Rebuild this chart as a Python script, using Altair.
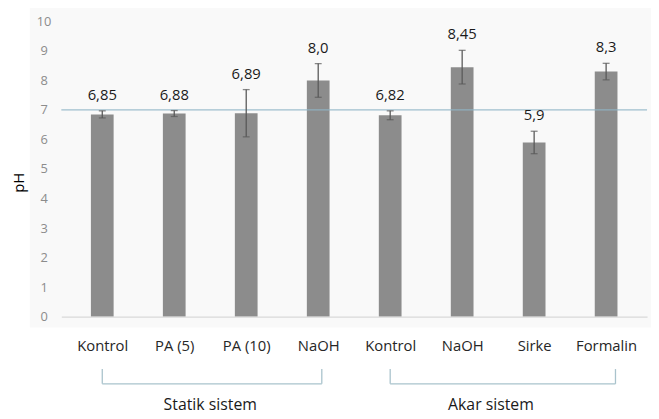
import json
import altair as alt
import pandas as pd

# ---- data ----
categories = ["Kontrol", "PA (5)", "PA (10)", "NaOH", "Kontrol", "NaOH", "Sirke", "Formalin"]
ph_values = [6.85, 6.88, 6.89, 8.0, 6.82, 8.45, 5.9, 8.3]
errors = [0.12, 0.10, 0.80, 0.57, 0.15, 0.57, 0.38, 0.28]
value_labels = ["6,85", "6,88", "6,89", "8,0", "6,82", "8,45", "5,9", "8,3"]
reference_ph = [7]
y_ticks = list(range(0, 11))

group_names = ["Statik sistem", "Akar sistem"]
group_start = [0, 4]
group_end = [3.05, 7.13]
group_center = [1.5, 5.4]

# ---- tables ----
idx = list(range(len(categories)))
df = pd.DataFrame({
    "idx": idx,
    "cat": categories,
    "ph": ph_values,
    "lo": [v - e for v, e in zip(ph_values, errors)],
    "hi": [v + e for v, e in zip(ph_values, errors)],
    "label": value_labels,
})
ref_df = pd.DataFrame({"ph": reference_ph})
grp_df = pd.DataFrame({"name": group_names, "start": group_start,
                       "end": group_end, "center": group_center})
bg_df = pd.DataFrame({"a": [0]})

FONT = "Open Sans"
W, H = 593, 299

xscale = alt.Scale(domain=[-0.5, 7.5], nice=False, zero=False)
yscale = alt.Scale(domain=[0, 10], nice=False)

label_expr = json.dumps(categories) + "[datum.value]"

x_axis = alt.Axis(values=idx, labelExpr=label_expr, title=None, ticks=False, tickSize=0,
                  grid=False, domainColor="#d9d9d9", domainWidth=1.2,
                  labelFontSize=15, labelColor="#262626", labelFont=FONT,
                  labelPadding=29, labelBaseline="middle", labelFlush=False,
                  labelOverlap=False, zindex=1)
y_axis = alt.Axis(values=y_ticks, grid=False, ticks=False, tickSize=0, domain=False,
                  labelColor="#8c8c8c", labelFontSize=13, labelFont=FONT,
                  labelAlign="center", labelPadding=18,
                  title="pH", titleX=-43, titleY=163, titleAngle=-90,
                  titleFontSize=15, titleFontWeight="normal", titleColor="#000000",
                  titleFont=FONT, titleAlign="center", titleBaseline="middle",
                  zindex=1)


def X(field):
    return alt.X(field, scale=xscale, axis=x_axis, title=None)


def Y(field):
    return alt.Y(field, scale=yscale, axis=y_axis, title="pH")


background = alt.Chart(bg_df).mark_rect(color="#f9f9f9").encode(
    x=alt.value(-32), x2=alt.value(W + 6), y=alt.value(-14), y2=alt.value(310)
)

bars = alt.Chart(df).mark_bar(size=23, color="#8c8c8c").encode(x=X("idx:Q"), y=Y("ph:Q"))

err_rule = alt.Chart(df).mark_rule(color="#595959", strokeWidth=1.3).encode(
    x=X("idx:Q"), y=Y("lo:Q"), y2="hi:Q",
)
cap_lo = alt.Chart(df).mark_tick(orient="horizontal", size=7, thickness=1.3,
                                 color="#595959").encode(x=X("idx:Q"), y=Y("lo:Q"))
cap_hi = alt.Chart(df).mark_tick(orient="horizontal", size=7, thickness=1.3,
                                 color="#595959").encode(x=X("idx:Q"), y=Y("hi:Q"))

value_text = alt.Chart(df).mark_text(fontSize=15, font=FONT, color="#1a1a1a",
                                     baseline="middle", dy=-16).encode(
    x=X("idx:Q"), y=Y("hi:Q"), text="label:N",
)

ref_line = alt.Chart(ref_df).mark_rule(color="#8fb5c7", strokeWidth=1.3, opacity=0.85).encode(
    y=Y("ph:Q")
)

BR_COLOR = "#a9c3cc"
br_h = alt.Chart(grp_df).mark_rule(color=BR_COLOR, strokeWidth=1.3).encode(
    x=X("start:Q"), x2="end:Q", y=alt.value(367)
)
br_l = alt.Chart(grp_df).mark_rule(color=BR_COLOR, strokeWidth=1.3).encode(
    x=X("start:Q"), y=alt.value(352), y2=alt.value(367)
)
br_r = alt.Chart(grp_df).mark_rule(color=BR_COLOR, strokeWidth=1.3).encode(
    x=X("end:Q"), y=alt.value(352), y2=alt.value(367)
)
grp_text = alt.Chart(grp_df).mark_text(fontSize=16, font=FONT, color="#1a1a1a",
                                       baseline="middle").encode(
    x=X("center:Q"), y=alt.value(388), text="name:N"
)

chart = alt.layer(
    background, bars, ref_line, err_rule, cap_lo, cap_hi, value_text,
    br_h, br_l, br_r, grp_text
).properties(
    width=W, height=H,
    autosize=alt.AutoSizeParams(type="none"),
    padding={"left": 54, "top": 11, "right": 4, "bottom": 100},
    background="#ffffff",
).configure_view(stroke=None).configure(font=FONT)

chart.save("out.html", embed_options={"renderer": "svg", "actions": False})
